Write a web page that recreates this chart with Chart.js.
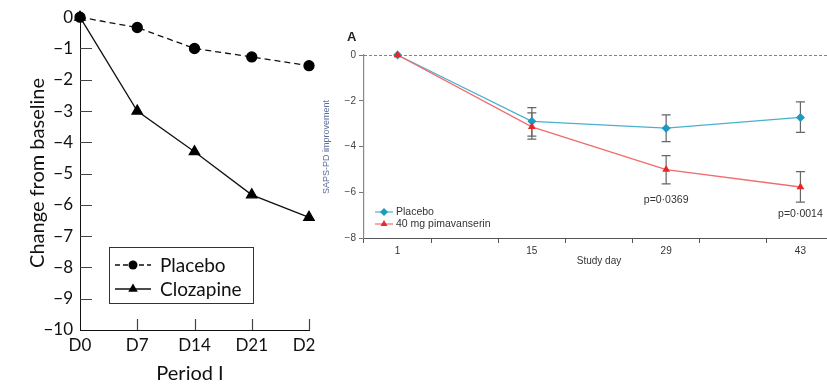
<!DOCTYPE html>
<html>
<head>
<meta charset="utf-8">
<script src="https://cdn.jsdelivr.net/npm/chart.js@4.4.0/dist/chart.umd.min.js"></script>
<style>
  html, body { margin: 0; padding: 0; background: #fff; overflow: hidden; }
  #wrap { position: relative; width: 827px; height: 384px; overflow: hidden; }
  #left { position: absolute; left: 0; top: 0; width: 315px; height: 384px; overflow: hidden; }
  #left .box { width: 345px; height: 384px; }
  #right { position: absolute; left: 318px; top: 0; width: 522px; height: 384px; }
</style>
</head>
<body>
<div id="wrap">
  <div id="left"><div class="box"><canvas id="clozChart"></canvas></div></div>
  <div id="right"><canvas id="pimaChart"></canvas></div>
</div>
<script>
// left panel: change from baseline, period I
const periodDays = ['D0', 'D7', 'D14', 'D21', 'D28']
const placeboChange = [0, -0.33, -1.0, -1.27, -1.55]
const clozapineChange = [0, -3.0, -4.3, -5.68, -6.4]

// right panel: SAPS-PD improvement (A)
const studyDays = ['1', '8', '15', '22', '29', '36', '43']
const measuredDays = ['1', '15', '29', '43']
const placeboMean = [0, -2.9, -3.2, -2.73]
const placeboUpper = [0, -2.3, -2.62, -2.05]
const placeboLower = [0, -3.55, -3.79, -3.38]
const pimaMean = [0, -3.14, -5.01, -5.77]
const pimaUpper = [0, -2.53, -4.4, -5.1]
const pimaLower = [0, -3.68, -5.63, -6.43]
const pValues = [
    { day: '29', text: 'p=0·0369', y: -6.33 },
    { day: '43', text: 'p=0·0014', y: -6.95 }
]

const minus = v => String(v).replace('-', '\u2212')
const LEFT_FONT = 'Lato, "Open Sans", sans-serif'
const RIGHT_FONT = '"Liberation Sans Narrow", "Liberation Sans", Arial, sans-serif'

// ---------- left chart ----------
const leftDecor = {
    id: 'leftDecor',
    afterDraw(chart) {
        const { ctx, chartArea: a, scales: { x, y } } = chart
        ctx.save()
        ctx.strokeStyle = '#444'
        ctx.lineWidth = 1.2
        ctx.setLineDash([])
        ctx.beginPath()
        x.ticks.forEach((t, i) => {
            if (i === 0) return
            const px = Math.round(x.getPixelForTick(i)) + 0.5
            ctx.moveTo(px, a.bottom)
            ctx.lineTo(px, a.bottom - 11)
        })
        y.ticks.forEach(t => {
            if (t.value === -10 || t.value === 0) return
            const py = Math.round(y.getPixelForValue(t.value)) + 0.5
            ctx.moveTo(a.left, py)
            ctx.lineTo(a.left + 12, py)
        })
        ctx.stroke()

        // axis titles
        ctx.fillStyle = '#111'
        ctx.font = '20px ' + LEFT_FONT
        ctx.textAlign = 'center'
        ctx.textBaseline = 'middle'
        ctx.fillText('Period I', 190, 374)
        ctx.translate(38, 173)
        ctx.rotate(-Math.PI / 2)
        ctx.fillText('Change from baseline', 0, 0)
        ctx.restore()

        // legend box
        ctx.save()
        ctx.strokeStyle = '#333'
        ctx.lineWidth = 1
        ctx.strokeRect(109.5, 247.5, 144, 56)
        const rows = [
            { label: 'Placebo', dash: [5, 3], style: 'circle', y: 265 },
            { label: 'Clozapine', dash: [], style: 'triangle', y: 289 }
        ]
        rows.forEach(r => {
            ctx.strokeStyle = '#111'
            ctx.lineWidth = 1.3
            ctx.setLineDash(r.dash)
            ctx.beginPath()
            ctx.moveTo(115, r.y)
            ctx.lineTo(151, r.y)
            ctx.stroke()
            ctx.setLineDash([])
            ctx.fillStyle = '#000'
            Chart.helpers.drawPoint(ctx, { pointStyle: r.style, radius: r.style === 'circle' ? 4.5 : 5.5, borderWidth: 0, rotation: 0 }, 133, r.y)
            ctx.fillStyle = '#111'
            ctx.font = '19px ' + LEFT_FONT
            ctx.textAlign = 'left'
            ctx.textBaseline = 'middle'
            ctx.fillText(r.label, 160, r.y + 1)
        })
        ctx.restore()
    }
}

new Chart(document.getElementById('clozChart'), {
    type: 'line',
    data: {
        labels: periodDays,
        datasets: [{
            label: 'Placebo',
            data: placeboChange,
            borderColor: '#111',
            borderWidth: 1.3,
            borderDash: [6, 4],
            pointStyle: 'circle',
            pointRadius: 5,
            pointBackgroundColor: '#000',
            pointBorderColor: '#000',
            clip: false
        }, {
            label: 'Clozapine',
            data: clozapineChange,
            borderColor: '#111',
            borderWidth: 1.3,
            pointStyle: 'triangle',
            pointRadius: 6,
            pointBackgroundColor: '#000',
            pointBorderColor: '#000',
            clip: false
        }]
    },
    options: {
        responsive: true,
        maintainAspectRatio: false,
        animation: false,
        layout: { padding: { left: 0, top: 16, right: 36, bottom: 0 } },
        plugins: { legend: { display: false }, tooltip: { enabled: false } },
        scales: {
            x: {
                offset: false,
                grid: { drawOnChartArea: false, drawTicks: false },
                border: { color: '#111', width: 1 },
                ticks: { color: '#111', font: { family: LEFT_FONT, size: 17 }, padding: 5, maxRotation: 0, autoSkip: false },
                afterFit(scale) { scale.height = 54 }
            },
            y: {
                min: -10,
                max: 0,
                grid: { drawOnChartArea: false, drawTicks: false },
                border: { color: '#111', width: 1 },
                ticks: {
                    stepSize: 1,
                    color: '#111',
                    font: { family: LEFT_FONT, size: 17 },
                    padding: 7,
                    callback: v => minus(v)
                },
                afterFit(scale) { scale.width = 80 }
            }
        }
    },
    plugins: [leftDecor]
})

// ---------- right chart ----------
const rightDecor = {
    id: 'rightDecor',
    beforeDatasetsDraw(chart) {
        const { ctx, chartArea: a, scales: { x, y } } = chart
        const py = Math.round(y.getPixelForValue(0)) + 0.5
        ctx.save()
        ctx.strokeStyle = '#666'
        ctx.lineWidth = 0.8
        ctx.setLineDash([3, 2])
        ctx.beginPath()
        ctx.moveTo(a.left, py)
        ctx.lineTo(a.right, py)
        ctx.stroke()
        ctx.restore()

        // error bars
        ctx.save()
        ctx.strokeStyle = '#666'
        ctx.lineWidth = 1.2
        const bars = [[placeboUpper, placeboLower], [pimaUpper, pimaLower]]
        bars.forEach(([up, lo]) => {
            measuredDays.forEach((d, i) => {
                if (up[i] === lo[i]) return
                const px = x.getPixelForValue(studyDays.indexOf(d))
                const y1 = y.getPixelForValue(up[i])
                const y2 = y.getPixelForValue(lo[i])
                ctx.beginPath()
                ctx.moveTo(px, y1); ctx.lineTo(px, y2)
                ctx.moveTo(px - 4.5, y1); ctx.lineTo(px + 4.5, y1)
                ctx.moveTo(px - 4.5, y2); ctx.lineTo(px + 4.5, y2)
                ctx.stroke()
            })
        })
        ctx.restore()
    },
    afterDatasetsDraw(chart) {
        const { ctx, chartArea: a, scales: { x, y } } = chart
        ctx.save()
        ctx.fillStyle = '#333'
        ctx.font = '10.5px ' + RIGHT_FONT
        ctx.textAlign = 'center'
        ctx.textBaseline = 'middle'
        pValues.forEach(p => {
            ctx.fillText(p.text, x.getPixelForValue(studyDays.indexOf(p.day)), y.getPixelForValue(p.y))
        })

        // title letter + axis titles
        ctx.font = 'bold 13px ' + RIGHT_FONT
        ctx.fillStyle = '#222'
        ctx.textAlign = 'left'
        ctx.fillText('A', 29, 37)
        ctx.font = '10px ' + RIGHT_FONT
        ctx.fillStyle = '#333'
        ctx.textAlign = 'center'
        ctx.fillText('Study day', (a.left + x.right) / 2, 261)
        ctx.save()
        ctx.translate(9, 147)
        ctx.rotate(-Math.PI / 2)
        ctx.font = '9px ' + RIGHT_FONT
        ctx.fillStyle = '#5a6e9a'
        ctx.fillText('SAPS-PD improvement', 0, 0)
        ctx.restore()

        // legend
        const rows = [
            { label: 'Placebo', line: '#4ab0cc', fill: '#1a9bc0', style: 'rectRot', y: 212 },
            { label: '40 mg pimavanserin', line: '#f26a6a', fill: '#e82626', style: 'triangle', y: 224 }
        ]
        rows.forEach(r => {
            ctx.strokeStyle = r.line
            ctx.lineWidth = 1.2
            ctx.beginPath()
            ctx.moveTo(a.left + 11, r.y)
            ctx.lineTo(a.left + 29, r.y)
            ctx.stroke()
            ctx.fillStyle = r.fill
            Chart.helpers.drawPoint(ctx, { pointStyle: r.style, radius: 4, borderWidth: 0, rotation: 0 }, a.left + 20, r.y)
            ctx.fillStyle = '#333'
            ctx.font = '10.5px ' + RIGHT_FONT
            ctx.textAlign = 'left'
            ctx.fillText(r.label, a.left + 32, r.y + 0.5)
        })
        ctx.restore()
    }
}

const toPoints = vals => measuredDays.map((d, i) => ({ x: d, y: vals[i] }))

new Chart(document.getElementById('pimaChart'), {
    type: 'line',
    data: {
        labels: studyDays,
        datasets: [{
            label: '40 mg pimavanserin',
            data: toPoints(pimaMean),
            borderColor: '#f26a6a',
            borderWidth: 1.3,
            pointStyle: 'triangle',
            pointRadius: 4.5,
            pointBackgroundColor: '#e82626',
            pointBorderColor: '#e82626',
            pointBorderWidth: 0,
            clip: false
        }, {
            label: 'Placebo',
            data: toPoints(placeboMean),
            borderColor: '#4ab0cc',
            borderWidth: 1.3,
            pointStyle: 'rectRot',
            pointRadius: 4.5,
            pointBackgroundColor: '#1a9bc0',
            pointBorderColor: '#1a9bc0',
            pointBorderWidth: 0,
            clip: false
        }]
    },
    options: {
        responsive: true,
        maintainAspectRatio: false,
        animation: false,
        layout: { padding: { left: 0, top: 55, right: 6, bottom: 0 } },
        plugins: { legend: { display: false }, tooltip: { enabled: false } },
        scales: {
            x: {
                type: 'category',
                offset: true,
                grid: { offset: true, drawOnChartArea: false, tickLength: 5, tickColor: '#555', tickWidth: 1 },
                border: { color: '#555', width: 1 },
                ticks: {
                    color: '#333',
                    font: { family: RIGHT_FONT, size: 10 },
                    padding: 2,
                    maxRotation: 0,
                    autoSkip: false,
                    callback: (v, i) => (i % 2 === 0 ? studyDays[i] : '')
                },
                afterFit(scale) { scale.height = 146 }
            },
            y: {
                min: -8,
                max: 0,
                grid: { drawOnChartArea: false, tickLength: 5, tickColor: '#777' },
                border: { color: '#888', width: 1.2 },
                ticks: {
                    stepSize: 2,
                    color: '#444',
                    font: { family: RIGHT_FONT, size: 10 },
                    padding: 3,
                    callback: v => minus(v)
                },
                afterFit(scale) { scale.width = 46 }
            }
        }
    },
    plugins: [rightDecor]
})
</script>
</body>
</html>
